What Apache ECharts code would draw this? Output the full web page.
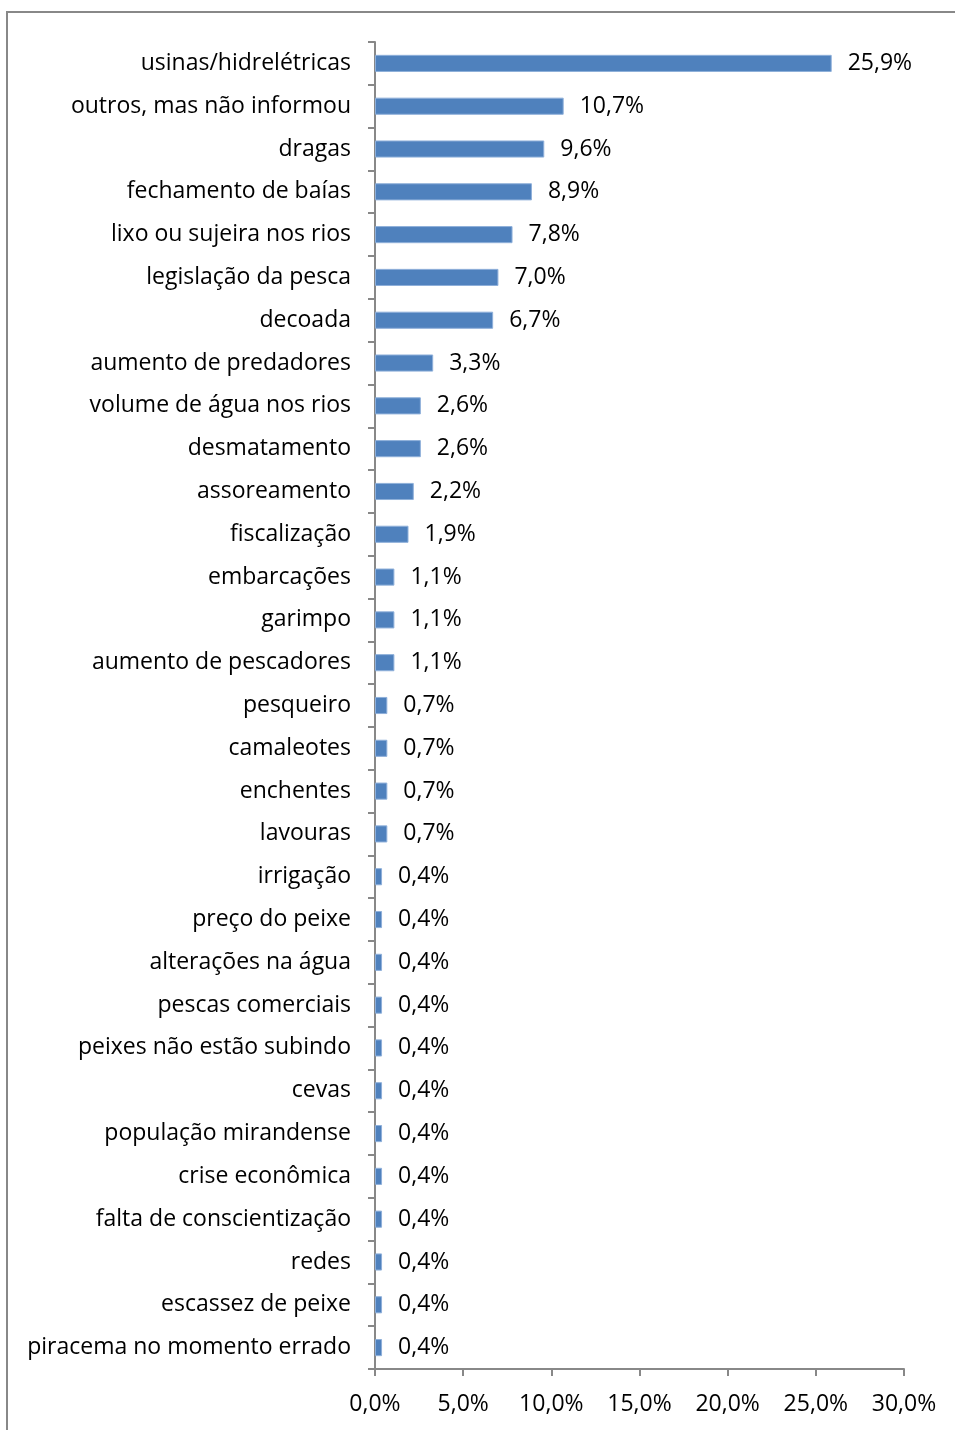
<!DOCTYPE html>
<html><head><meta charset="utf-8">
<script src="https://cdn.jsdelivr.net/npm/echarts@6/dist/echarts.min.js"></script>
<style>html,body{margin:0;padding:0;background:#fff}#c{width:955px;height:1430px}</style>
</head><body><div id="c"></div>
<script>
const categories = ["usinas/hidrelétricas","outros, mas não informou","dragas","fechamento de baías","lixo ou sujeira nos rios","legislação da pesca","decoada","aumento de predadores","volume de água nos rios","desmatamento","assoreamento","fiscalização","embarcações","garimpo","aumento de pescadores","pesqueiro","camaleotes","enchentes","lavouras","irrigação","preço do peixe","alterações na água","pescas comerciais","peixes não estão subindo","cevas","população mirandense","crise econômica","falta de conscientização","redes","escassez de peixe","piracema no momento errado"];
const values = [25.9,10.7,9.6,8.9,7.8,7.0,6.7,3.3,2.6,2.6,2.2,1.9,1.1,1.1,1.1,0.7,0.7,0.7,0.7,0.4,0.4,0.4,0.4,0.4,0.4,0.4,0.4,0.4,0.4,0.4,0.4];
const xTicks = [0,5,10,15,20,25,30];
const fmt = v => v.toFixed(1).replace('.', ',') + '%';
const font = 'Open Sans';
const chart = echarts.init(document.getElementById('c'));
chart.setOption({
  animation:false,
  graphic:[{type:'rect',shape:{x:7,y:12,width:1200,height:1600},style:{fill:'none',stroke:'#888',lineWidth:2},silent:true}],
  grid:{left:375,right:51,top:42,bottom:61,containLabel:false},
  xAxis:{type:'value',min:xTicks[0],max:xTicks[xTicks.length-1],interval:5,
    splitLine:{show:false},
    axisLine:{show:true,lineStyle:{color:'#888',width:2}},
    axisTick:{show:true,length:7,lineStyle:{color:'#888',width:2}},
    axisLabel:{formatter:fmt,color:'#000',fontSize:23,fontFamily:font,margin:24}},
  yAxis:{type:'category',data:categories,inverse:true,
    axisLine:{lineStyle:{color:'#888',width:2}},
    axisTick:{show:true,length:7,lineStyle:{color:'#888',width:2}},
    axisLabel:{color:'#000',fontSize:23,fontFamily:font,margin:24,padding:[7,0,0,0]}},
  series:[{type:'bar',data:values,barCategoryGap:'60%',
    itemStyle:{color:'#4F81BD',borderColor:'#8FB0DA',borderWidth:1},
    label:{show:true,position:'right',distance:16,padding:[7,0,0,0],formatter:p=>fmt(p.value),color:'#000',fontSize:23,fontFamily:font}}]
});
</script></body></html>
